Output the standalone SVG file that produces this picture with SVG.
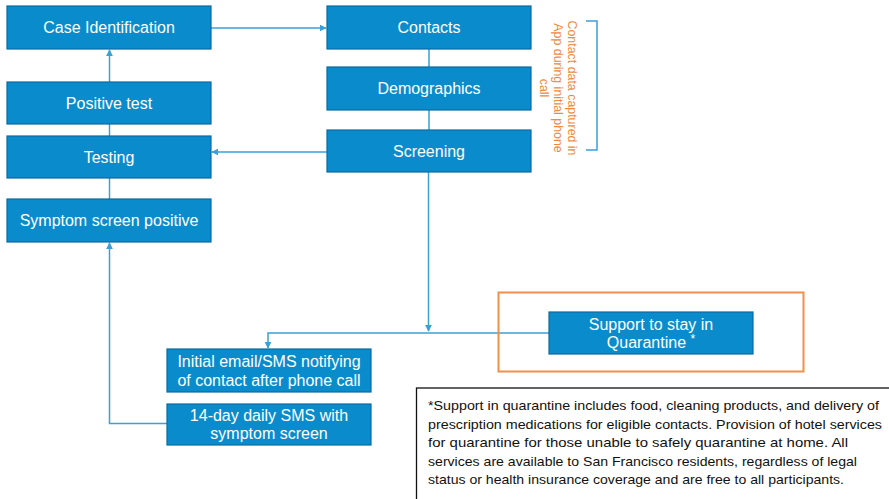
<svg xmlns="http://www.w3.org/2000/svg" width="889" height="499" viewBox="0 0 889 499">
<style>
.box{fill:#0a8ccc;stroke:#0b6a9e;stroke-width:1.2}
.bt{font-family:"Liberation Sans",Arial,sans-serif;font-size:16px;fill:#ffffff;text-anchor:middle}
.ln{fill:none;stroke:#3aa0d8;stroke-width:1.5}
.or{font-family:"Liberation Sans",Arial,sans-serif;font-size:12.4px;fill:#ef8a3c;text-anchor:middle}
.fn{font-family:"Liberation Sans",Arial,sans-serif;font-size:13.2px;fill:#111111}
</style>
<defs>
<marker id="ah2" viewBox="0 0 10 10" refX="9" refY="5" markerWidth="7" markerHeight="7" orient="auto" markerUnits="userSpaceOnUse"><path d="M0,0 L10,5 L0,10 z" fill="#3aa0d8"/></marker>
</defs>
<rect width="889" height="499" fill="#ffffff"/>
<g id="connectors">
<path class="ln" d="M211,28 H326" marker-end="url(#ah2)"/>
<path class="ln" d="M109.5,82 V50" marker-end="url(#ah2)"/>
<path class="ln" d="M109.5,136 V124"/>
<path class="ln" d="M109.5,199 V178"/>
<path class="ln" d="M429,49 V67 M429,110 V130"/>
<path class="ln" d="M327,152 H212" marker-end="url(#ah2)"/>
<path class="ln" d="M428.5,172 V331" marker-end="url(#ah2)"/>
<path class="ln" d="M549,333 H268 V348" marker-end="url(#ah2)"/>
<path class="ln" d="M167,423.5 H109.5 V243" marker-end="url(#ah2)"/>
<path class="ln" d="M586,21 H597 V150 H586"/>
</g>
<g id="case-identification"><rect class="box" x="7" y="6" width="204" height="43"/><text class="bt" x="109" y="33">Case Identification</text></g>
<g id="positive-test"><rect class="box" x="7" y="82" width="204" height="42"/><text class="bt" x="109" y="108.5">Positive test</text></g>
<g id="testing"><rect class="box" x="7" y="136" width="204" height="42"/><text class="bt" x="109" y="163">Testing</text></g>
<g id="symptom-screen-positive"><rect class="box" x="7" y="199" width="204" height="43"/><text class="bt" x="109" y="226">Symptom screen positive</text></g>
<g id="contacts"><rect class="box" x="327" y="6" width="204" height="43"/><text class="bt" x="429" y="33">Contacts</text></g>
<g id="demographics"><rect class="box" x="327" y="67" width="204" height="43"/><text class="bt" x="429" y="94">Demographics</text></g>
<g id="screening"><rect class="box" x="327" y="130" width="204" height="42"/><text class="bt" x="429" y="157">Screening</text></g>
<g id="contact-note"><g transform="translate(568,88) rotate(90)"><text class="or" x="0" y="0">Contact data captured in</text><text class="or" x="0" y="14">App during initial phone</text><text class="or" x="0" y="28">call</text></g></g>
<g id="support-quarantine"><rect x="498.5" y="292.5" width="305" height="79" fill="none" stroke="#f0904a" stroke-width="2"/><rect class="box" x="549" y="312" width="204" height="42"/><text class="bt" x="651" y="330">Support to stay in</text><text class="bt" x="651" y="348">Quarantine <tspan font-size="12" dy="-5">*</tspan></text></g>
<g id="initial-email"><rect class="box" x="167" y="349" width="204" height="43"/><text class="bt" x="269" y="367">Initial email/SMS notifying</text><text class="bt" x="269" y="386">of contact after phone call</text></g>
<g id="daily-sms"><rect class="box" x="167" y="404" width="204" height="41"/><text class="bt" x="269" y="421">14-day daily SMS with</text><text class="bt" x="269" y="439">symptom screen</text></g>
<g id="footnote"><rect x="416.5" y="388" width="480" height="120" fill="#ffffff" stroke="#111111" stroke-width="1.3"/>
<text class="fn" x="428" y="410" textLength="451" lengthAdjust="spacingAndGlyphs">*Support in quarantine includes food, cleaning products, and delivery of</text>
<text class="fn" x="428" y="428.5" textLength="454" lengthAdjust="spacingAndGlyphs">prescription medications for eligible contacts.  Provision of hotel services</text>
<text class="fn" x="428" y="447" textLength="420" lengthAdjust="spacingAndGlyphs">for quarantine for those unable to safely quarantine at home.  All</text>
<text class="fn" x="428" y="465.5" textLength="429" lengthAdjust="spacingAndGlyphs">services are available to San Francisco residents, regardless of legal</text>
<text class="fn" x="428" y="484" textLength="416" lengthAdjust="spacingAndGlyphs">status or health insurance coverage and are free to all participants.</text>
</g>
</svg>
